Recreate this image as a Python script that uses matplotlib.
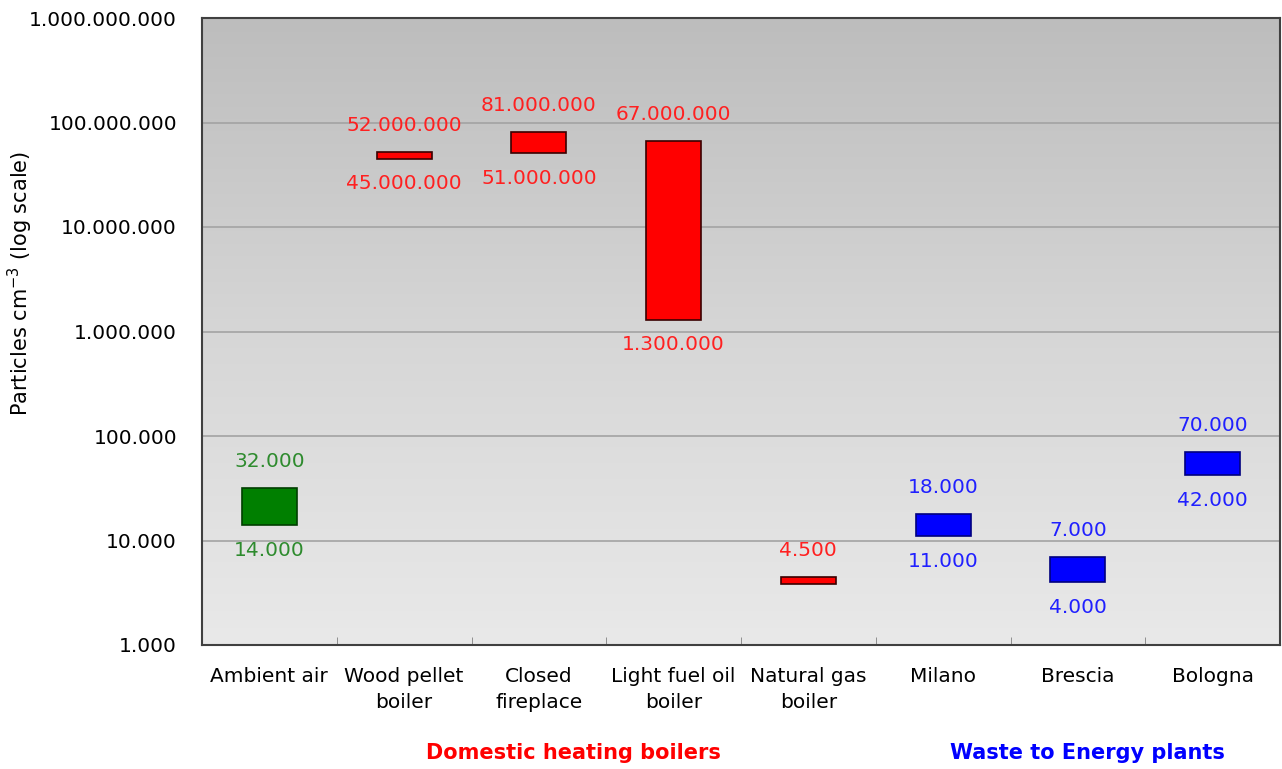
import matplotlib
matplotlib.use('Agg')

import matplotlib.pyplot as plt
import matplotlib.ticker as mticker
import numpy as np

# categories and ranges (particles per cm3)
categories = ["Ambient air", "Wood pellet\nboiler", "Closed\nfireplace", "Light fuel oil\nboiler",
              "Natural gas\nboiler", "Milano", "Brescia", "Bologna"]
low = [14000, 45000000, 51000000, 1300000, 3850, 11000, 4000, 42000]
high = [32000, 52000000, 81000000, 67000000, 4500, 18000, 7000, 70000]
low_txt = ["14.000", "45.000.000", "51.000.000", "1.300.000", "", "11.000", "4.000", "42.000"]
high_txt = ["32.000", "52.000.000", "81.000.000", "67.000.000", "4.500", "18.000", "7.000", "70.000"]
bar_colors = ["#007f00", "#ff0000", "#ff0000", "#ff0000", "#ff0000", "#0000ff", "#0000ff", "#0000ff"]
text_colors = ["#2e8b2e", "#ff2020", "#ff2020", "#ff2020", "#ff2020", "#2020ff", "#2020ff", "#2020ff"]
edge_colors = ["#003f00", "#3a0000", "#3a0000", "#3a0000", "#3a0000", "#00007f", "#00007f", "#00007f"]
yticks = [1e3, 1e4, 1e5, 1e6, 1e7, 1e8, 1e9]

fig = plt.figure(figsize=(12.82, 7.69), dpi=100)
ax = fig.add_axes([202/1282, 1 - 645/769, 1078/1282, 627/769])

x = np.arange(len(categories))

# gradient background (axes coords)
grad = np.linspace(0, 1, 256).reshape(-1, 1)
cmap = matplotlib.colors.LinearSegmentedColormap.from_list("bg", ["#e9e9e9", "#d6d6d6", "#bdbdbd"])
ax.imshow(grad, aspect='auto', cmap=cmap, origin='lower',
          extent=[0, 1, 0, 1], transform=ax.transAxes, zorder=0)

ax.set_yscale('log')
ax.set_ylim(1e3, 1e9)
ax.set_xlim(-0.5, len(categories) - 0.5)

for v in yticks[1:-1]:
    ax.axhline(v, color='#a3a3a3', lw=1.2, zorder=1)

ax.bar(x, np.array(high) - np.array(low), bottom=low, width=0.41,
       color=bar_colors, edgecolor=edge_colors, linewidth=1.2, zorder=3)

for i in range(len(categories)):
    ax.annotate(high_txt[i], (x[i], high[i]), xytext=(0, 19), textcoords='offset points',
                ha='center', va='center', color=text_colors[i], fontsize=14.5, zorder=4)
    if low_txt[i]:
        ax.annotate(low_txt[i], (x[i], low[i]), xytext=(0, -18), textcoords='offset points',
                    ha='center', va='center', color=text_colors[i], fontsize=14.5, zorder=4)

ax.yaxis.set_major_locator(mticker.FixedLocator(yticks))
ax.yaxis.set_minor_locator(mticker.NullLocator())
ax.set_yticklabels([f"{int(v):,}".replace(",", ".") for v in yticks], fontsize=14.5)
ax.tick_params(axis='y', length=0, pad=18)

ax.set_xticks(x)
ax.set_xticklabels(categories, fontsize=14.5, linespacing=1.45)
ax.tick_params(axis='x', length=0, pad=16)
ax.set_xticks(x[:-1] + 0.5, minor=True)
ax.tick_params(axis='x', which='minor', direction='in', length=6, color='#808080')

for s in ax.spines.values():
    s.set_color('#404040')
    s.set_linewidth(1.5)

ax.set_ylabel("Particles cm$^{-3}$ (log scale)", fontsize=15)
ax.yaxis.set_label_coords(-0.155, 0.577)

fig.text(573/1282, 1 - 753/769, "Domestic heating boilers", color='#ff0000',
         fontsize=15, fontweight='bold', ha='center', va='center')
fig.text(1087/1282, 1 - 753/769, "Waste to Energy plants", color='#0000ff',
         fontsize=15, fontweight='bold', ha='center', va='center')

fig.savefig("out.png", dpi=100)
